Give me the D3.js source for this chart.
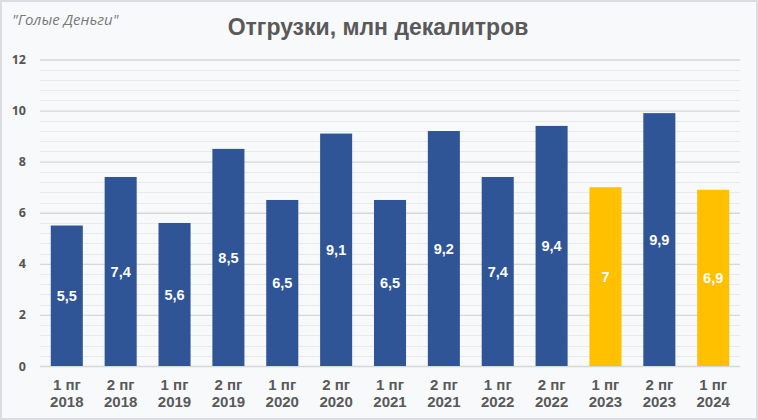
<!DOCTYPE html>
<html><head><meta charset="utf-8">
<script src="https://cdn.jsdelivr.net/npm/d3@7"></script>
<style>
html,body{margin:0;padding:0;background:#fff;}
svg{display:block;font-family:Arial,"Liberation Sans",sans-serif;}
</style></head>
<body><svg id="c" width="758" height="420"></svg>
<script>
const halves = ["1 пг","2 пг","1 пг","2 пг","1 пг","2 пг","1 пг","2 пг","1 пг","2 пг","1 пг","2 пг","1 пг"];
const years = ["2018","2018","2019","2019","2020","2020","2021","2021","2022","2022","2023","2023","2024"];
const values = [5.5,7.4,5.6,8.5,6.5,9.1,6.5,9.2,7.4,9.4,7,9.9,6.9];
const highlight = [false,false,false,false,false,false,false,false,false,false,true,false,true];
const yTicks = [0,2,4,6,8,10,12];
const title = "Отгрузки, млн декалитров";
const watermark = "\"Голые Деньги\"";

const svg = d3.select("#c");
svg.append("rect").attr("x",1).attr("y",1).attr("width",756).attr("height",418)
  .attr("fill","#f8f9fb").attr("stroke","#dcdde0").attr("stroke-width",2);

const cats = values.map((d,i)=>i);
const x = d3.scaleBand().domain(cats).range([40,740]).paddingInner(0.405).paddingOuter(0.2);
const y = d3.scaleLinear().domain([0,12]).range([366,59.5]);

// minor gridlines
const minor = d3.range(0,12.01,0.4).filter(v=>Math.abs(v/2-Math.round(v/2))>1e-6);
svg.append("g").selectAll("line").data(minor).join("line")
  .attr("x1",40).attr("x2",740).attr("y1",d=>Math.round(y(d))+0.5).attr("y2",d=>Math.round(y(d))+0.5)
  .attr("stroke","#e9eaec").attr("stroke-width",1);

// major axis
const ax = svg.append("g").attr("transform","translate(40,0)")
  .call(d3.axisLeft(y).tickValues(yTicks).tickSize(-700).tickFormat(d3.format("d")));
ax.select(".domain").remove();
ax.selectAll(".tick line").attr("stroke","#d6d7d9").attr("stroke-width",1.3);
ax.selectAll(".tick text").attr("x",-14).attr("fill","#555").attr("font-size",12.5).attr("font-weight","bold")
  .attr("font-family","'Open Sans',Arial,sans-serif");

// bars
svg.append("g").selectAll("rect").data(values).join("rect")
  .attr("x",(d,i)=>x(i)).attr("width",x.bandwidth())
  .attr("y",d=>y(d)).attr("height",d=>y(0)-y(d))
  .attr("fill",(d,i)=>highlight[i]?"#ffc000":"#2f5597");

// value labels
svg.append("g").selectAll("text").data(values).join("text")
  .attr("x",(d,i)=>x(i)+x.bandwidth()/2).attr("y",d=>(y(d)+y(0))/2)
  .attr("dy","0.36em").attr("text-anchor","middle")
  .attr("fill","#fff").attr("font-size",14.5).attr("font-weight","bold")
  .text(d=>String(d).replace(".",","));

// x labels
const xl = svg.append("g").selectAll("text").data(cats).join("text")
  .attr("text-anchor","middle").attr("fill","#595959").attr("font-size",15).attr("font-weight","bold");
xl.append("tspan").attr("x",i=>x(i)+x.bandwidth()/2).attr("y",390).text(i=>halves[i]);
xl.append("tspan").attr("x",i=>x(i)+x.bandwidth()/2).attr("y",406.5).text(i=>years[i]);

// title
svg.append("text").attr("x",378).attr("y",34.5).attr("text-anchor","middle")
  .attr("fill","#595959").attr("font-size",23).attr("font-weight","bold").text(title);
svg.append("text").attr("x",12).attr("y",25).attr("fill","#7a7a7a")
  .attr("font-family","'Open Sans',Arial,sans-serif")
  .attr("font-size",15).attr("font-style","italic").text(watermark);
</script></body></html>
